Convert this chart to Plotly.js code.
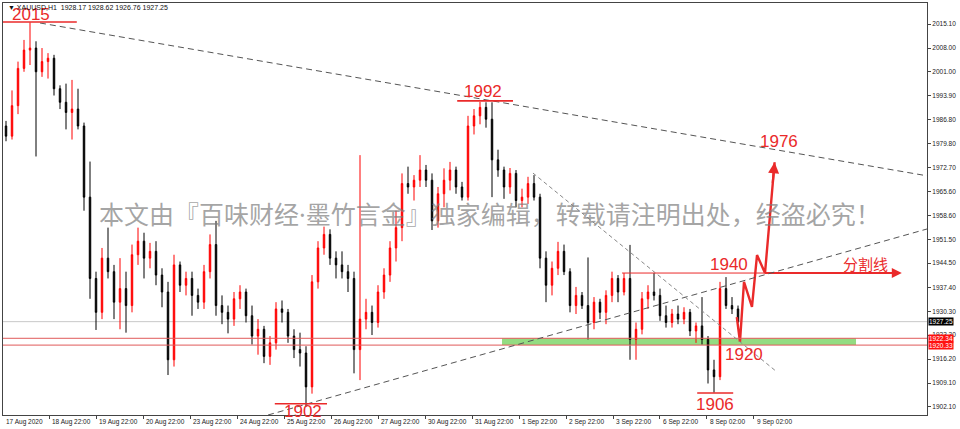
<!DOCTYPE html>
<html><head><meta charset="utf-8">
<script src="https://cdn.plot.ly/plotly-3.0.1.min.js"></script>
<style>html,body{margin:0;padding:0;background:#fff}#chart{width:960px;height:429px}</style>
</head><body><div id="chart"></div>
<script>
// XAUUSD H1 (aggregated ~3 bars per candle)
const firstOpen = 1985;
const closes = [1982,1991,2002,2007.4,2008,2001,2004,2005,1996,1992,
1989,1990,1985,1964,1940,1930,1946,1942,1933,1937,
1932,1947,1951,1946,1948,1941,1936,1916,1944,1938,
1940,1935,1933,1942,1950,1932,1930,1928,1934,1936,
1929,1923,1925,1917,1921,1931,1930,1923,1919,1918,
1908,1939,1949,1953,1946,1944,1942,1940,1919,1928,
1930,1927,1936,1941,1949,1955,1968,1967,1969,1972,
1969,1957,1965,1969,1972,1967,1964,1985,1988,1990.5,
1987,1975,1972,1967,1971,1963,1964,1968,1964,1946,
1938,1943,1948,1942,1932,1935,1932,1927,1933,1930,
1935,1940,1936,1940,1922,1925,1934,1936,1935,1929,
1927,1929.5,1928,1930,1924.5,1926,1922,1913,1911,1937,
1932,1931,1927.25];
const highs = [1986.5,1995.5,2004,2010.4,2015.6,2010,2008,2006.5,2006,1997,
1997.5,1998.6,1996,1986,1974.5,1942,1949,1955,1944,1946,
1942,1950,1955,1953.5,1950.5,1951,1943,1939,1947,1945,
1942,1942,1937,1944,1953,1957,1935,1932,1936,1938,
1937,1932,1928,1926,1923,1933,1933.5,1931,1925,1924,
1920,1941,1951,1955.3,1954.5,1948,1948,1944,1942,1976.4,
1934,1932,1938,1943,1951,1960,1971,1973,1970.5,1976.4,
1973.5,1971,1967,1972.5,1974.4,1973,1968.5,1988,1990,1992.1,
1992,1992,1978,1973,1972.6,1972,1966.5,1970,1970.5,1965,
1948,1945,1950.8,1950,1943,1937.5,1936,1946.2,1934.5,1934,
1936.5,1942,1941,1941.6,1949.9,1927,1936,1938,1941.6,1937,
1932,1931,1932,1931.5,1931,1927,1934.5,1923,1916,1939,
1940.4,1934.5,1932];
const lows = [1980.5,1981,1988.5,2001,2003,1976,1999.5,1999,1994,1990,
1984,1981,1984,1960,1934,1924.8,1928,1940,1928,1925,
1924,1930,1944,1940,1943,1938,1931.5,1911.5,1914,1936,
1935,1929,1931,1931,1940,1929,1926.5,1923.8,1926,1931,
1927,1920.5,1917.5,1915,1914.5,1919,1927,1921,1916.5,1914,
1902.1,1906,1937,1947,1944,1940,1940,1936,1912,1910,
1925,1923.3,1925.5,1934,1939,1945,1951,1965,1963,1967,
1967,1954.3,1955,1961,1966,1965,1963,1963,1982.5,1985.5,
1984.5,1964,1970,1963.5,1965,1961,1961,1962,1963,1943,
1933,1935,1941,1941,1930,1929.5,1931,1922,1925,1928,
1926.5,1933,1933,1935,1916,1916,1923.5,1931,1933.5,1927.5,
1925.5,1925.5,1926.5,1926.5,1923,1921,1920.5,1909,1906.3,1910,
1931,1929.5,1926.8];
const opens = [firstOpen].concat(closes.slice(0, -1));
const xs = closes.map((_, i) => i);

const yTicks = [2015.10,2008.00,2001.00,1993.90,1986.80,1979.80,1972.70,1965.60,1958.60,1951.50,1944.50,1937.40,1930.30,1923.30,1916.20,1909.10,1902.10];
const xLabels = ["18 Aug 22:00","19 Aug 22:00","20 Aug 22:00","23 Aug 22:00","24 Aug 22:00","25 Aug 22:00","26 Aug 22:00","27 Aug 22:00","30 Aug 22:00","31 Aug 22:00","1 Sep 22:00","2 Sep 22:00","3 Sep 22:00","6 Sep 22:00","8 Sep 02:00","9 Sep 02:00"];
const firstLabel = "17 Aug 2020";
const xTickPos = xLabels.map((_, k) => 7.17 + 7.833 * k);

const lastPrice = 1927.25, lineA = 1922.34, lineB = 1920.33;
const header = "▼ XAUUSD,H1  1928.17 1928.62 1926.76 1927.25";

// annotation drawings
const zigX = [121.8,122.33,123,124.33,125.17,126.5,128.1];
const zigY = [1928.6,1921.3,1939.0,1931.6,1946.9,1941.6,1974.3];
const splitY = 1941.6;
const marks = [
  {t:"2015", x:4.17, y:2017.8, lx:[-1,11.8], ly:2015.7},
  {t:"1992", x:79.5, y:1995.3, lx:[75.2,84.5], ly:1992.4},
  {t:"1902", x:49.5, y:1900.6, lx:[44.8,53.5], ly:1903.0},
  {t:"1906", x:118.2, y:1902.9, lx:[115.2,121.2], ly:1906.2},
  {t:"1940", x:120.5, y:1944.0},
  {t:"1920", x:123.0, y:1917.7},
  {t:"1976", x:128.8, y:1980.3}
];
const RED = '#ea2a2a';

const shapes = [
  {type:'line', xref:'paper', x0:0, x1:1, yref:'y', y0:lastPrice, y1:lastPrice, line:{color:'#c8c8c8', width:1}, layer:'below'},
  {type:'rect', xref:'x', x0:82.67, x1:141.67, yref:'y', y0:lineB, y1:lineA, fillcolor:'#93dc82', line:{width:0}, layer:'below'},
  {type:'line', xref:'paper', x0:0, x1:1, yref:'y', y0:lineA, y1:lineA, line:{color:'#e05a5a', width:1}},
  {type:'line', xref:'paper', x0:0, x1:1, yref:'y', y0:lineB, y1:lineB, line:{color:'#e05a5a', width:1}},
  // trend lines
  {type:'line', xref:'x', yref:'y', x0:5.67, y0:2015.4, x1:153.5, y1:1970.3, line:{color:'#555', width:1, dash:'6px,4px'}},
  {type:'line', xref:'x', yref:'y', x0:43.67, y0:1899.7, x1:153.5, y1:1954.6, line:{color:'#555', width:1, dash:'6px,4px'}},
  {type:'line', xref:'x', yref:'y', x0:87.83, y0:1971.1, x1:128.5, y1:1912.4, line:{color:'#888', width:1, dash:'4px,3px'}},
  // split line thin part
  {type:'line', xref:'x', yref:'y', x0:102.67, y0:splitY, x1:126.5, y1:splitY, line:{color:RED, width:1}}
];
marks.forEach(m => { if (m.lx) shapes.push({type:'line', xref:'x', yref:'y', x0:m.lx[0], x1:m.lx[1], y0:m.ly, y1:m.ly, line:{color:RED, width:1.6}}); });

const ann = [];
marks.forEach(m => ann.push({x:m.x, y:m.y, xref:'x', yref:'y', text:m.t, showarrow:false, font:{family:'Liberation Sans, Arial', size:17, color:RED}}));
ann.push({x:143.3, y:1944.3, xref:'x', yref:'y', text:'分割线', showarrow:false, font:{family:'Noto Sans CJK SC', size:15, color:RED}});
ann.push({x:80.65, y:1959.0, xref:'x', yref:'y', text:'本文由『百味财经·墨竹言金』独家编辑，转载请注明出处，经盗必究！', showarrow:false, font:{family:'Noto Sans, Noto Sans CJK SC', size:25, color:'rgba(125,125,125,0.7)'}});
// arrow heads
ann.push({x:zigX[zigX.length-1], y:zigY[zigY.length-1], xref:'x', yref:'y', text:'', showarrow:true, arrowhead:2, arrowsize:1, arrowwidth:2.2, arrowcolor:RED, ax:-2, ay:22});
ann.push({x:149.3, y:splitY, xref:'x', yref:'y', text:'', showarrow:true, arrowhead:2, arrowsize:1, arrowwidth:2, arrowcolor:RED, ax:-22, ay:0});
// header
ann.push({x:0.003, y:0.99, xref:'paper', yref:'paper', xanchor:'left', yanchor:'middle', text:header, showarrow:false, font:{family:'Liberation Sans, Arial', size:7, color:'#111'}});
// x labels
ann.push({x:-0.33, y:-0.017, xref:'x', yref:'paper', xanchor:'left', yanchor:'middle', text:firstLabel, showarrow:false, font:{family:'Liberation Sans, Arial', size:6.5, color:'#222'}});
xLabels.forEach((t, k) => ann.push({x:xTickPos[k]+0.12, y:-0.017, xref:'x', yref:'paper', xanchor:'left', yanchor:'middle', text:t, showarrow:false, font:{family:'Liberation Sans, Arial', size:6.5, color:'#222'}}));
// price boxes
[[lastPrice,'#000'],[lineA,'#ff1010'],[lineB,'#ff1010']].forEach(p => ann.push({x:1.001, y:p[0], xref:'paper', yref:'y', xanchor:'left', yanchor:'middle', text:p[0].toFixed(2), showarrow:false, bgcolor:p[1], borderpad:0, font:{family:'Liberation Sans, Arial', size:6.5, color:'#fff'}}));

const traces = [
  {type:'candlestick', x:xs, open:opens, high:highs, low:lows, close:closes,
   increasing:{line:{color:'#ff0000', width:1}, fillcolor:'#ff0000'},
   decreasing:{line:{color:'#000000', width:1}, fillcolor:'#000000'},
   whiskerwidth:0, hoverinfo:'skip', showlegend:false},
  {type:'scatter', mode:'lines', x:zigX, y:zigY, line:{color:RED, width:2.4}, hoverinfo:'skip', showlegend:false},
  {type:'scatter', mode:'lines', x:[126.5,148.8], y:[splitY,splitY], line:{color:RED, width:2}, hoverinfo:'skip', showlegend:false}
];

const layout = {
  width:960, height:429, margin:{l:3, r:33, t:3, b:14},
  paper_bgcolor:'#fff', plot_bgcolor:'#fff', showlegend:false, boxgap:0.65,
  xaxis:{range:[-0.5,153.5], rangeslider:{visible:false}, showgrid:false, zeroline:false,
         showline:true, mirror:true, linecolor:'#444', linewidth:1,
         tickmode:'array', tickvals:xTickPos, ticks:'outside', ticklen:3, tickcolor:'#444', showticklabels:false},
  yaxis:{range:[1899.7,2021.3], side:'right', showgrid:false, zeroline:false,
         showline:true, mirror:true, linecolor:'#444', linewidth:1,
         tickmode:'array', tickvals:yTicks, ticktext:yTicks.map(v => v.toFixed(2)),
         ticks:'outside', ticklen:3, tickcolor:'#444',
         tickfont:{family:'Liberation Sans, Arial', size:6.5, color:'#222'}},
  shapes:shapes, annotations:ann
};
Plotly.newPlot('chart', traces, layout, {staticPlot:true, displayModeBar:false});
</script></body></html>
